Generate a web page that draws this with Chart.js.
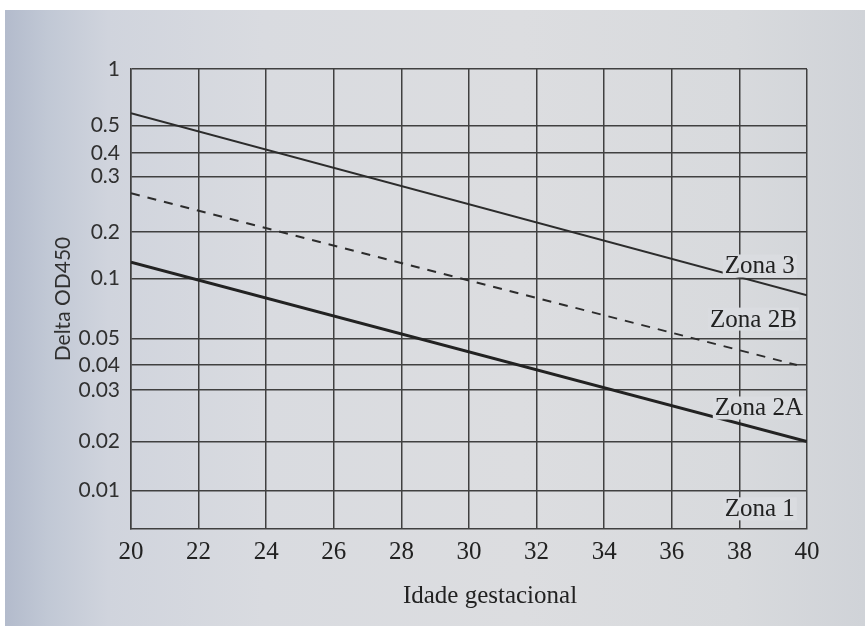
<!DOCTYPE html>
<html lang="pt">
<head>
<meta charset="utf-8">
<title>Delta OD450 - Idade gestacional</title>
<script src="https://cdn.jsdelivr.net/npm/chart.js@4.4.1/dist/chart.umd.min.js"></script>
<style>
  html, body { margin: 0; padding: 0; background: #fff; }
  #papel {
    position: absolute; left: 5px; top: 10px; width: 860px; height: 616px;
    background: linear-gradient(to right, #b3bbcc 0%, #c1c8d5 5%, #d0d4dd 12%, #d9dbe0 30%, #dcdde0 60%, #d8dadd 85%, #d0d3d8 100%);
  }
  #grafico { position: absolute; left: 0; top: 0; }
</style>
</head>
<body>
<div id="papel"></div>
<canvas id="grafico" width="865" height="626"></canvas>
<script>
// ---- dados ----
const SEMANAS = [20, 22, 24, 26, 28, 30, 32, 34, 36, 38, 40];
const Y_TICKS = [1, 0.5, 0.4, 0.3, 0.2, 0.1, 0.05, 0.04, 0.03, 0.02, 0.01];
const Y_LABELS = ["1", "0.5", "0.4", "0.3", "0.2", "0.1", "0.05", "0.04", "0.03", "0.02", "0.01"];

const ZONA3_X = [20, 40];
const ZONA3 = [0.61, 0.086];
const ZONA2B_X = [20, 39.7];
const ZONA2B = [0.27, 0.040];
const ZONA2A_X = [20, 40];
const ZONA2A = [0.135, 0.02];

const ZONAS = ["Zona 3", "Zona 2B", "Zona 2A", "Zona 1"];
const ZONAS_X = [39.64, 39.7, 39.88, 39.64];
const ZONAS_Y = [0.129, 0.067, 0.0267, 0.0055];

// ---- eixo vertical do abaco (escala nao uniforme) ----
// fracao da altura, a partir do topo, onde cai cada marca de Y_TICKS; o fundo vale 0
const Y_POS = [0, 0.1233, 0.1826, 0.2341, 0.3543, 0.4554, 0.5859, 0.6435, 0.6978, 0.8098, 0.9163];
const KV = [...Y_TICKS, 0];
const KP = [...Y_POS, 1];

const TINTA = "#303030";
const GRADE = "#404040";
const PAPEL = "#dadce0";

class EscalaAbaco extends Chart.LinearScale {
  static id = "abaco";
  static defaults = Chart.LinearScale.defaults;

  buildTicks() {
    this.start = this.min;
    this.end = this.max;
    return Y_TICKS.map(v => ({ value: v }));
  }

  getPixelForValue(value) {
    let f = 1;
    if (value >= KV[0]) f = 0;
    else if (value > 0) {
      for (let i = 0; i < KV.length - 1; i++) {
        if (value <= KV[i] && value >= KV[i + 1]) {
          const t = (KV[i] - value) / (KV[i] - KV[i + 1]);
          f = KP[i] + t * (KP[i + 1] - KP[i]);
          break;
        }
      }
    }
    return this.getPixelForDecimal(1 - f);
  }

  getValueForPixel(pixel) {
    const f = 1 - this.getDecimalForPixel(pixel);
    for (let i = 0; i < KP.length - 1; i++) {
      if (f >= KP[i] && f <= KP[i + 1]) {
        const t = (f - KP[i]) / (KP[i + 1] - KP[i]);
        return KV[i] - t * (KV[i] - KV[i + 1]);
      }
    }
    return f < 0 ? KV[0] : 0;
  }
}
Chart.register(EscalaAbaco);

function pontos(xs, ys) {
  return xs.map((x, i) => ({ x, y: ys[i] }));
}

// rotulos das zonas e titulos dos eixos
const rotulos = {
  id: "rotulos",
  afterDatasetsDraw(chart) {
    const { ctx, chartArea, scales: { x, y } } = chart;
    ctx.save();
    ctx.font = '25px "Liberation Serif"';
    ctx.textAlign = "right";
    ctx.textBaseline = "alphabetic";
    ZONAS.forEach((nome, i) => {
      const px = x.getPixelForValue(ZONAS_X[i]);
      const base = y.getPixelForValue(ZONAS_Y[i]) + 8.5;
      const w = ctx.measureText(nome).width;
      ctx.fillStyle = PAPEL;
      ctx.fillRect(px - w - 2, base - 19, w + 4, 23);
      ctx.fillStyle = "#222222";
      ctx.fillText(nome, px, base);
    });

    ctx.textAlign = "center";
    ctx.fillStyle = "#222222";
    ctx.fillText("Idade gestacional", (chartArea.left + chartArea.right) / 2 + 21, chartArea.bottom + 74);

    ctx.translate(chartArea.left - 61, (chartArea.top + chartArea.bottom) / 2);
    ctx.rotate(-Math.PI / 2);
    ctx.font = '21px "Lato"';
    ctx.fillStyle = TINTA;
    ctx.fillText("Delta OD450", 0, 0);
    ctx.restore();
  }
};

new Chart(document.getElementById("grafico"), {
  type: "line",
  data: {
    datasets: [
      { label: "Zona 3", data: pontos(ZONA3_X, ZONA3), borderColor: "#2c2c2c", borderWidth: 2 },
      { label: "Zona 2B", data: pontos(ZONA2B_X, ZONA2B), borderColor: "#2c2c2c", borderWidth: 2, borderDash: [9, 8] },
      { label: "Zona 2A", data: pontos(ZONA2A_X, ZONA2A), borderColor: "#222222", borderWidth: 3 }
    ]
  },
  options: {
    responsive: false,
    animation: false,
    layout: { padding: { left: 0, top: 69, right: 58, bottom: 0 } },
    elements: { point: { radius: 0 }, line: { tension: 0 } },
    plugins: { legend: { display: false }, tooltip: { enabled: false } },
    scales: {
      x: {
        type: "linear",
        min: 20,
        max: 40,
        afterBuildTicks: s => { s.ticks = SEMANAS.map(v => ({ value: v })); },
        afterFit: s => { s.height = 97; },
        grid: { color: GRADE, lineWidth: 1.5, drawTicks: false },
        border: { color: GRADE, width: 1.5 },
        ticks: { color: "#222222", padding: 8, font: { family: "Liberation Serif", size: 25 } }
      },
      y: {
        type: "abaco",
        min: 0,
        max: 1,
        afterFit: s => { s.width = 131; },
        grid: { color: GRADE, lineWidth: 1.5, drawTicks: false },
        border: { color: GRADE, width: 1.5 },
        ticks: {
          autoSkip: false,
          padding: 11,
          color: TINTA,
          font: { family: "Lato", size: 21 },
          callback: v => Y_LABELS[Y_TICKS.indexOf(v)]
        }
      }
    }
  },
  plugins: [rotulos]
});
</script>
</body>
</html>
